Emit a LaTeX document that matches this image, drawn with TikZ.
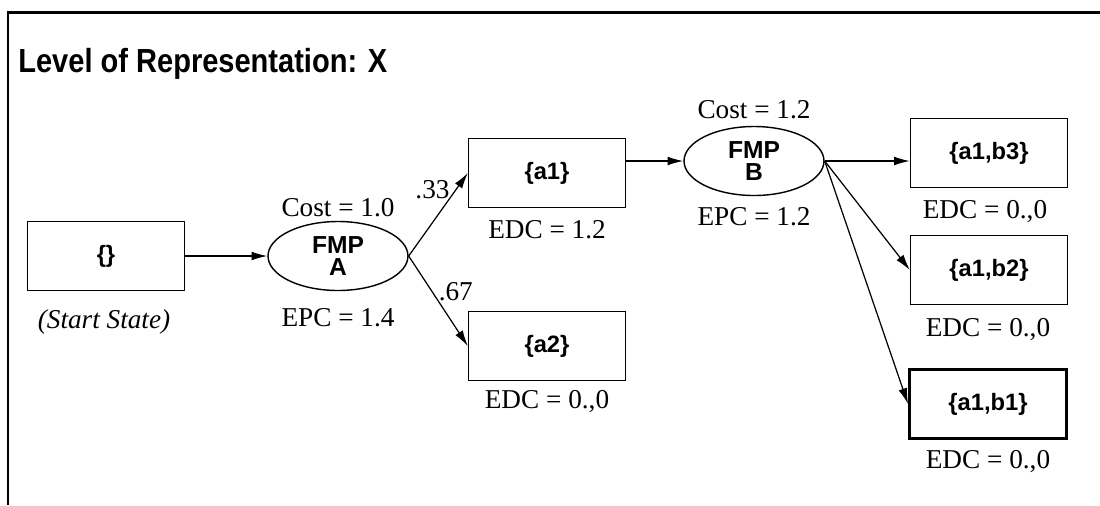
\documentclass[tikz,border=0pt]{standalone}
\usepackage{fontspec}
\setmainfont{Liberation Serif}
\setsansfont{Liberation Sans}
\usetikzlibrary{arrows.meta,shapes.geometric}

\begin{document}
\begin{tikzpicture}[x=0.02cm,y=-0.02cm,>={Latex[length=9pt,width=5pt]},
  every node/.style={align=center},
  state/.style={draw,line width=0.8pt,minimum width=3.14cm,minimum height=1.38cm,
    font=\sffamily\bfseries\fontsize{13.5}{15}\selectfont},
  fmp/.style={draw,ellipse,line width=0.8pt,minimum width=2.8cm,minimum height=1.38cm,
    inner sep=0pt,font=\sffamily\bfseries\fontsize{14}{12.5}\selectfont},
  val/.style={font=\fontsize{15.5}{17}\selectfont}]
\useasboundingbox (0,0) rectangle (1100,505);
\draw[line width=1.7pt] (8,505) -- (8,12) -- (1100,12);
\node[anchor=base west,inner sep=0pt,font=\sffamily\bfseries\fontsize{19}{20}\selectfont]
  (title) at (18,72) {\scalebox{0.87}[1]{Level of Representation: X}};

% start state
\node[state] (start) at (106,256) {\{\}};
\node[font=\itshape\fontsize{15.5}{17}\selectfont] (startlbl) at (104,322) {(Start State)};

% first FMP
\node[fmp] (A) at (338,256) {FMP\\A};
\node[val] (costA) at (338,208) {Cost = 1.0};
\node[val] (epcA) at (338,318) {EPC = 1.4};

\node[state] (a1) at (547,173) {\{a1\}};
\node[val] (edca1) at (547,230) {EDC = 1.2};
\node[state] (a2) at (547,346) {\{a2\}};
\node[val] (edca2) at (547,402) {EDC = 0.,0};

% second FMP
\node[fmp] (B) at (754,161) {FMP\\B};
\node[val] (costB) at (754,110) {Cost = 1.2};
\node[val] (epcB) at (754,217) {EPC = 1.2};

\node[state] (b3) at (989,153) {\{a1,b3\}};
\node[val] (edcb3) at (985,212) {EDC = 0.,0};
\node[state] (b2) at (989,270) {\{a1,b2\}};
\node[val] (edcb2) at (988,330) {EDC = 0.,0};
\node[state,line width=1.7pt] (b1) at (988,404) {\{a1,b1\}};
\node[val] (edcb1) at (988,462) {EDC = 0.,0};

\draw[->,line width=0.7pt] (start) -- (A);
\draw[->,line width=0.7pt] (A.east) -- node[val,pos=.8,left] {.33} (a1.west);
\draw[->,line width=0.7pt] (A.east) -- node[val,pos=.4,right] {.67} (a2.west);
\draw[->,line width=0.7pt] (a1.east |- B.west) -- (B.west);
\draw[->,line width=0.7pt] (B.east) -- (B.east -| b3.west);
\draw[->,line width=0.7pt] (B.east) -- (b2.west);
\draw[->,line width=0.7pt] (B.east) -- (b1.west);
\end{tikzpicture}
\end{document}
